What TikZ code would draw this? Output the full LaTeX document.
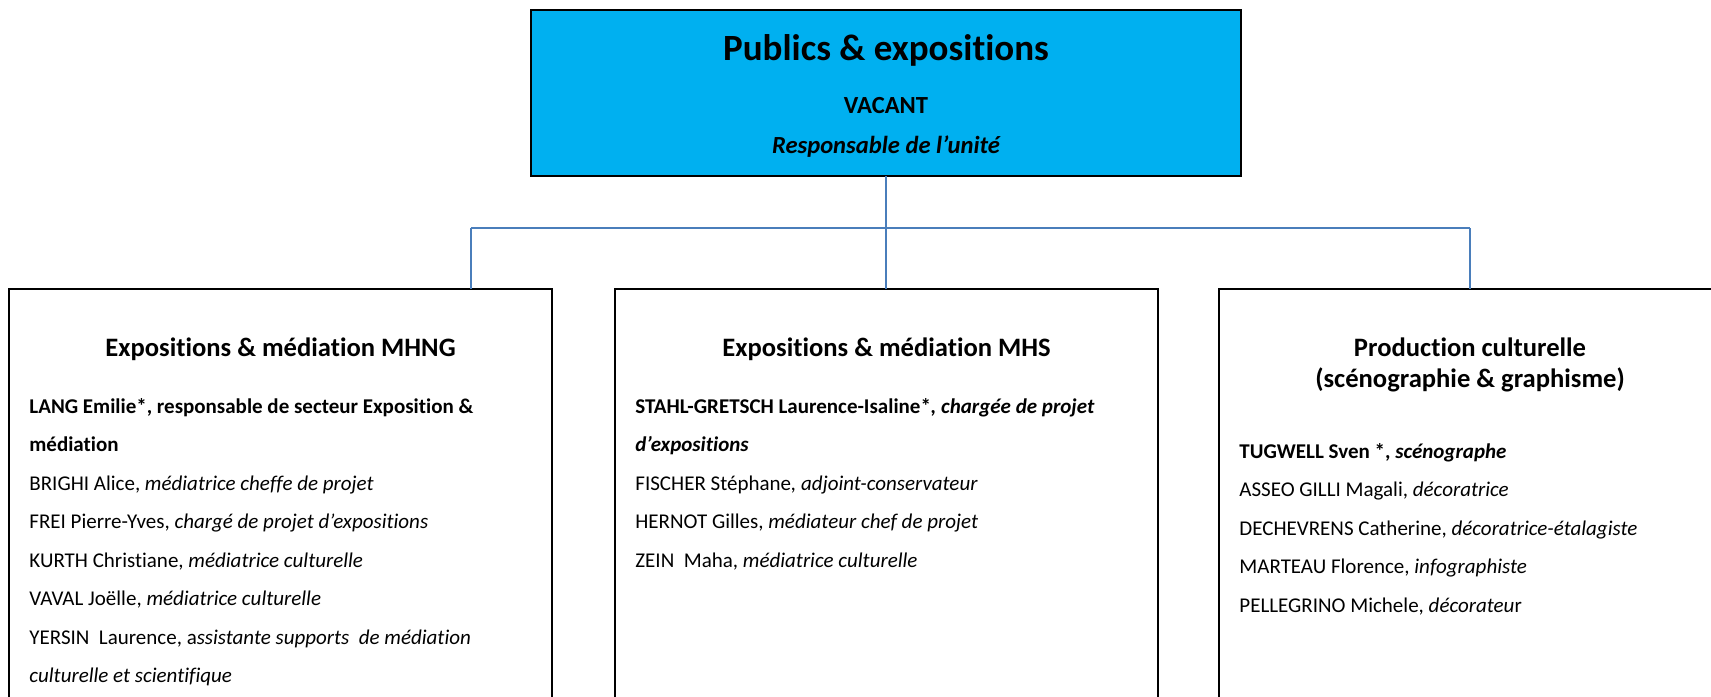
\documentclass[tikz,border=0pt]{standalone}
\usepackage{fontspec}
\setmainfont{Carlito}[Ligatures={TeX,NoCommon,NoContextual,NoRequired},Contextuals={NoAlternate}]
\definecolor{topblue}{HTML}{00B0F0}
\definecolor{linkblue}{HTML}{4A7EBB}
\begin{document}
\begin{tikzpicture}[x=0.5pt,y=-0.5pt,
  unitbox/.style={draw=black,line width=0.95pt,inner sep=0pt,outer sep=0pt,anchor=north west,minimum width=271.5pt,minimum height=250pt},
  headbox/.style={draw=black,line width=1.2pt,fill=topblue,inner sep=0pt,outer sep=0pt,anchor=north west,minimum width=355pt,minimum height=83pt},
  link/.style={draw=linkblue,line width=0.8pt},
  bodyline/.style={anchor=base west,inner sep=0pt,font=\fontsize{10.5}{12}\selectfont},
  unittitle/.style={anchor=base,inner sep=0pt,font=\fontsize{13.3}{16}\selectfont\bfseries},
  headtitle/.style={anchor=base,inner sep=0pt,font=\fontsize{18.5}{22}\selectfont\bfseries},
  headsub/.style={anchor=base,inner sep=0pt,font=\fontsize{12.3}{15}\selectfont\bfseries}]
\useasboundingbox (0,0) rectangle (1711,696);
\clip (0,0) rectangle (1711,696);
\fill[white] (0,0) rectangle (1711,696);

% head box
\node[headbox] (head) at (531,10) {};
\node[headtitle] (headt) at (886,60) {Publics \& expositions};
\node[headsub] (headv) at (886,113) {VACANT};
\node[headsub] (headr) at (886,153) {\itshape Responsable de l’unité};

% unit boxes
\node[unitbox] (mhng) at (9,289) {};
\node[unitbox] (mhs) at (615,289) {};
\node[unitbox] (prod) at (1219,289) {};

% connectors
\coordinate (jL) at (471,228);
\coordinate (jC) at (886,228);
\coordinate (jR) at (1470,228);
\draw[link] (head.south) -- (jC);
\draw[link] (jL) -- (jR);
\draw[link] (jL) -- (jL |- mhng.north);
\draw[link] (jC) -- (jC |- mhs.north);
\draw[link] (jR) -- (jR |- prod.north);

% MHNG
\node[unittitle] (mhngt) at (280.5,356) {Expositions \& médiation MHNG};
\node[bodyline] (a1) at (29,413) {\bfseries LANG Emilie*, responsable de secteur Exposition \&};
\node[bodyline] (a2) at (29,451.5) {\bfseries médiation};
\node[bodyline] (a3) at (29,490) {BRIGHI Alice, \textit{médiatrice cheffe de projet}};
\node[bodyline] (a4) at (29,528.5) {FREI Pierre-Yves, \textit{chargé de projet d’expositions}};
\node[bodyline] (a5) at (29,567) {KURTH Christiane, \textit{médiatrice culturelle}};
\node[bodyline] (a6) at (29,605.5) {VAVAL Joëlle, \textit{médiatrice culturelle}};
\node[bodyline] (a7) at (29,644) {YERSIN\ \ Laurence, a\textit{ssistante supports\ \ de médiation}};
\node[bodyline] (a8) at (29,682.5) {\itshape culturelle et scientifique};

% MHS
\node[unittitle] (mhst) at (886.5,356) {Expositions \& médiation MHS};
\node[bodyline] (b1) at (635,413) {\bfseries STAHL-GRETSCH Laurence-Isaline*\textit{, chargée de projet}};
\node[bodyline] (b2) at (635,451.5) {\bfseries\itshape d’expositions};
\node[bodyline] (b3) at (635,490) {FISCHER Stéphane\textit{, adjoint-conservateur}};
\node[bodyline] (b4) at (635,528.5) {HERNOT Gilles, \textit{médiateur chef de projet}};
\node[bodyline] (b5) at (635,567) {ZEIN\ \ Maha, \textit{médiatrice culturelle}};

% Production
\node[unittitle] (prodt1) at (1470,356) {Production culturelle};
\node[unittitle] (prodt2) at (1470,387) {(scénographie \& graphisme)};
\node[bodyline] (c1) at (1239,458) {\bfseries TUGWELL Sven *, \textit{scénographe}};
\node[bodyline] (c2) at (1239,496.5) {ASSEO GILLI Magali, \textit{décoratrice}};
\node[bodyline] (c3) at (1239,535) {DECHEVRENS Catherine, \textit{décoratrice-étalagiste}};
\node[bodyline] (c4) at (1239,573.5) {MARTEAU Florence, \textit{infographiste}};
\node[bodyline] (c5) at (1239,612) {PELLEGRINO Michele, \textit{décorateu}r};
\end{tikzpicture}
\end{document}
